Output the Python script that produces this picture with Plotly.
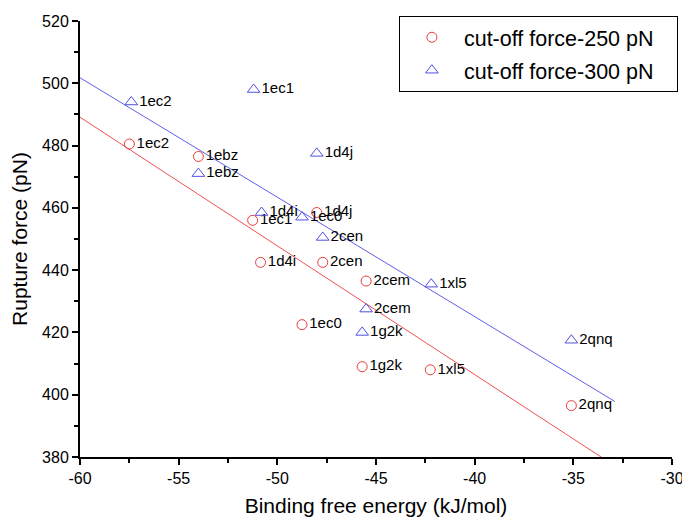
import numpy as np
import plotly.graph_objects as go

# ---- data ----
labels_250 = ["1ec2", "1ebz", "1ec1", "1d4j", "1d4i", "2cen", "2cem", "1ec0", "1g2k", "1xl5", "2qnq"]
energy_250 = [-57.5, -54.0, -51.25, -48.0, -50.85, -47.7, -45.5, -48.75, -45.7, -42.25, -35.1]
force_250 = [480.5, 476.5, 456.0, 458.5, 442.5, 442.5, 436.5, 422.5, 409.0, 408.0, 396.5]

labels_300 = ["1ec2", "1ec1", "1ebz", "1d4j", "1d4i", "1ec0", "2cen", "1xl5", "2cem", "1g2k", "2qnq"]
energy_300 = [-57.4, -51.2, -54.0, -48.0, -50.8, -48.75, -47.7, -42.2, -45.5, -45.7, -35.1]
force_300 = [494.0, 498.0, 471.0, 477.5, 458.5, 457.0, 450.5, 435.5, 427.5, 420.0, 417.5]

series_names = ["cut-off force-250 pN", "cut-off force-300 pN"]

fit_range = [-60.0, -32.9]

x_ticks = [-60, -55, -50, -45, -40, -35, -30]
y_ticks = [380, 400, 420, 440, 460, 480, 500, 520]

RED = "rgb(232,60,60)"
BLUE = "rgb(80,80,225)"
FONT = "Arial, Liberation Sans, sans-serif"
PAD = "\u00a0\u00a0\u00a0"  # right padding inside the legend box

fig = go.Figure()

# linear fits
for xs, ys, col in [(energy_250, force_250, "rgb(240,80,80)"), (energy_300, force_300, "rgb(95,95,235)")]:
    k, b = np.polyfit(xs, ys, 1)
    fx = np.array(fit_range)
    fig.add_trace(go.Scatter(x=fx, y=k * fx + b, mode="lines",
                             line=dict(color=col, width=1), showlegend=False, hoverinfo="skip"))

fig.add_trace(go.Scatter(
    x=energy_250, y=force_250, mode="markers+text", text=labels_250,
    textposition="middle right", textfont=dict(family=FONT, size=15, color="black"),
    marker=dict(symbol="circle-open", size=10, color=RED, line=dict(width=1, color=RED)),
    name=series_names[0] + PAD, legendgroup="a", cliponaxis=False))

fig.add_trace(go.Scatter(
    x=energy_300, y=force_300, mode="markers+text", text=labels_300,
    textposition="middle right", textfont=dict(family=FONT, size=15, color="black"),
    marker=dict(symbol="triangle-up-open", size=11, color=BLUE, line=dict(width=1, color=BLUE)),
    name=series_names[1] + PAD, legendgroup="b", cliponaxis=False))

# page body has an 8px margin: figure is sized/margined so the plot area lands
# at x 80..672, y 16..457 of the 690x526 window
fig.update_layout(
    width=682, height=518,
    margin=dict(l=72, r=18, t=8, b=69),
    paper_bgcolor="white", plot_bgcolor="white",
    font=dict(family=FONT, color="black"),
    legend=dict(x=1.01, xanchor="right", y=1.012, yanchor="top",
                bordercolor="black", borderwidth=1, bgcolor="white",
                font=dict(family=FONT, size=21.5), itemwidth=54,
                tracegroupgap=2),
    xaxis=dict(range=[-60, -30], tickvals=x_ticks, ticktext=[str(v) for v in x_ticks],
               automargin=False,
               showline=True, linecolor="black", linewidth=2, mirror=False,
               ticks="outside", ticklen=6, tickwidth=2, tickcolor="black",
               minor=dict(ticks="outside", ticklen=4, tickwidth=1.5, tickcolor="black", dtick=2.5),
               showgrid=False, zeroline=False,
               tickfont=dict(family=FONT, size=16),
               title=dict(text="Binding free energy (kJ/mol)", font=dict(family=FONT, size=21), standoff=12)),
    yaxis=dict(range=[380, 520], tickvals=y_ticks, ticktext=[str(v) for v in y_ticks],
               automargin=False,
               showline=True, linecolor="black", linewidth=2, mirror=False,
               ticks="outside", ticklen=6, tickwidth=2, tickcolor="black",
               minor=dict(ticks="outside", ticklen=4, tickwidth=1.5, tickcolor="black", dtick=10),
               showgrid=False, zeroline=False,
               tickfont=dict(family=FONT, size=16),
               title=dict(text="Rupture force (pN)", font=dict(family=FONT, size=21), standoff=14)),
)

fig.write_html("out.html")
